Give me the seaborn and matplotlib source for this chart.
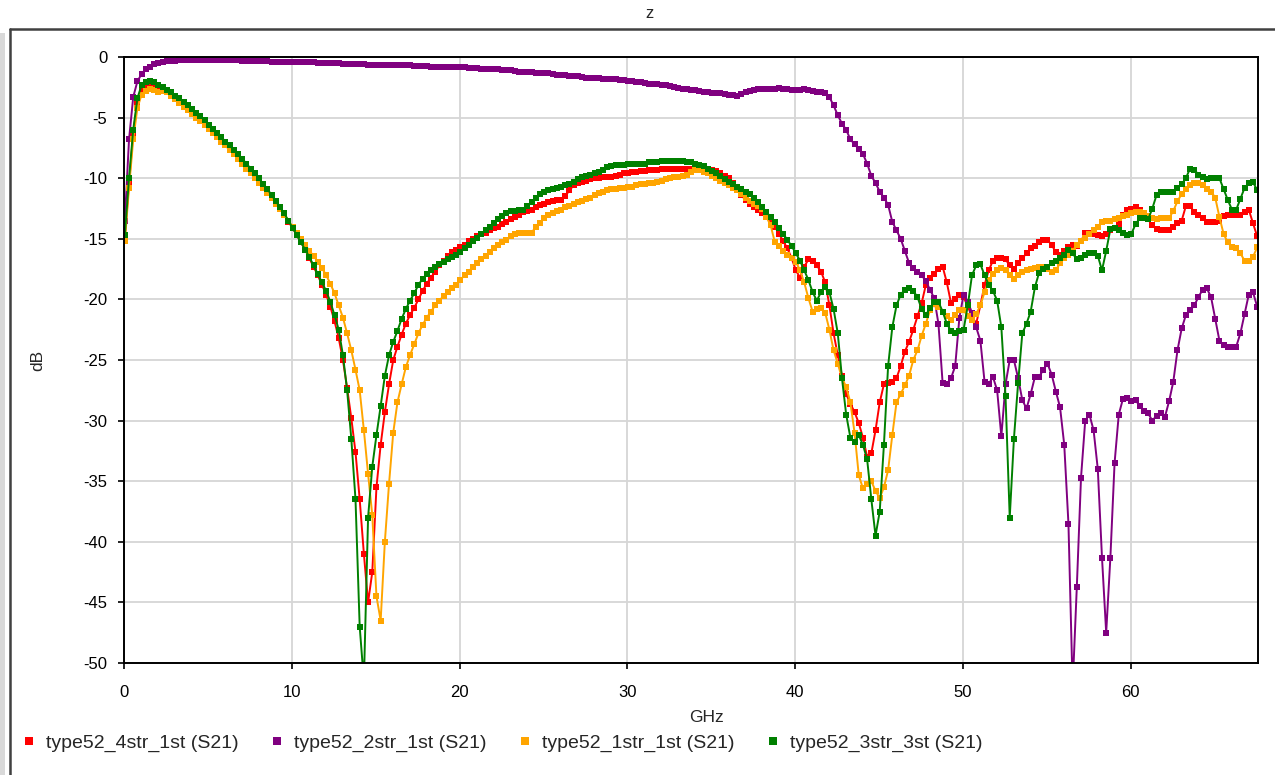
import numpy as np
import pandas as pd
import matplotlib
matplotlib.use("Agg")
import matplotlib.pyplot as plt
from matplotlib.lines import Line2D
import seaborn as sns

# Frequency sweep (GHz)
freq = np.linspace(0.05, 67.55, 271)

s21_4str_1st = [
    -14.9, -10.4, -6.3, -3.7,
    -2.6, -2.3, -2.2, -2.3,
    -2.5, -2.7, -2.9, -3.1,
    -3.4, -3.6, -3.9, -4.2,
    -4.5, -4.8, -5.1, -5.4,
    -5.8, -6.1, -6.5, -6.8,
    -7.2, -7.5, -7.9, -8.2,
    -8.6, -9.0, -9.4, -9.8,
    -10.2, -10.6, -11.0, -11.5,
    -12.0, -12.5, -13.0, -13.6,
    -14.1, -14.7, -15.3, -15.9,
    -16.6, -17.3, -18.0, -18.8,
    -19.6, -20.6, -21.8, -23.2,
    -25.0, -27.3, -29.8, -32.6,
    -36.5, -41.0, -45.0, -42.5,
    -35.5, -32.0, -29.3, -27.0,
    -25.0, -23.9, -22.9, -22.0,
    -21.3, -20.7, -20.0, -19.3,
    -18.7, -18.2, -17.7, -17.2,
    -16.8, -16.4, -16.1, -15.9,
    -15.7, -15.5, -15.2, -15.0,
    -14.8, -14.6, -14.5, -14.3,
    -14.1, -14.0, -13.8, -13.6,
    -13.4, -13.2, -13.0, -12.8,
    -12.7, -12.6, -12.4, -12.2,
    -12.1, -12.0, -11.9, -11.8,
    -11.8, -11.5, -11.0, -10.6,
    -10.4, -10.3, -10.2, -10.1,
    -10.0, -10.0, -9.9, -9.9,
    -9.9, -9.8, -9.7, -9.6,
    -9.6, -9.5, -9.5, -9.4,
    -9.4, -9.3, -9.3, -9.3,
    -9.2, -9.2, -9.2, -9.2,
    -9.2, -9.2, -9.2, -9.2,
    -9.2, -9.2, -9.3, -9.3,
    -9.3, -9.4, -9.6, -9.8,
    -10.0, -10.4, -10.9, -11.4,
    -11.8, -12.1, -12.4, -12.6,
    -12.9, -13.2, -13.5, -14.0,
    -14.6, -15.2, -15.8, -16.6,
    -17.6, -18.2, -17.3, -16.7,
    -16.8, -17.2, -17.7, -18.6,
    -20.5, -22.8, -24.6, -26.3,
    -27.8, -28.6, -29.3, -30.2,
    -31.4, -33.0, -32.7, -30.8,
    -28.5, -27.0, -26.9, -26.8,
    -26.5, -25.5, -24.3, -23.5,
    -22.5, -21.4, -20.3, -18.8,
    -18.2, -17.9, -17.5, -17.3,
    -18.6, -20.3, -20.0, -19.6,
    -19.8, -20.6, -21.4, -22.0,
    -20.5, -18.8, -17.6, -16.8,
    -16.6, -16.6, -16.7, -17.2,
    -17.5, -17.0, -16.6, -16.2,
    -15.8, -15.6, -15.3, -15.1,
    -15.1, -15.5, -16.1, -16.3,
    -16.0, -15.7, -15.5, -15.6,
    -15.2, -14.5, -14.5, -14.6,
    -14.7, -14.8, -14.6, -14.3,
    -14.1, -13.8, -13.0, -12.6,
    -12.5, -12.4, -12.6, -12.9,
    -13.4, -13.9, -14.2, -14.3,
    -14.3, -14.3, -14.0, -13.7,
    -13.5, -12.3, -12.3, -12.8,
    -13.0, -13.3, -13.6, -13.6,
    -13.6, -13.5, -13.1, -13.0,
    -13.0, -13.0, -13.0, -12.8,
    -12.6, -13.7, -14.8,
]

s21_2str_1st = [
    -13.5, -6.8, -3.3, -2.0,
    -1.4, -1.0, -0.8, -0.6,
    -0.5, -0.4, -0.3, -0.3,
    -0.3, -0.25, -0.25, -0.25,
    -0.25, -0.25, -0.25, -0.25,
    -0.25, -0.25, -0.25, -0.25,
    -0.25, -0.25, -0.25, -0.25,
    -0.3, -0.3, -0.3, -0.3,
    -0.3, -0.3, -0.35, -0.4,
    -0.4, -0.4, -0.4, -0.4,
    -0.4, -0.4, -0.4, -0.4,
    -0.45, -0.45, -0.5, -0.5,
    -0.5, -0.5, -0.5, -0.5,
    -0.55, -0.55, -0.55, -0.55,
    -0.6, -0.6, -0.65, -0.65,
    -0.65, -0.65, -0.7, -0.7,
    -0.7, -0.7, -0.7, -0.7,
    -0.7, -0.75, -0.75, -0.75,
    -0.75, -0.8, -0.8, -0.8,
    -0.8, -0.8, -0.8, -0.8,
    -0.85, -0.85, -0.9, -0.9,
    -0.9, -0.95, -0.95, -1.0,
    -1.0, -1.0, -1.05, -1.1,
    -1.1, -1.15, -1.2, -1.2,
    -1.25, -1.25, -1.3, -1.3,
    -1.35, -1.35, -1.4, -1.45,
    -1.5, -1.5, -1.55, -1.6,
    -1.6, -1.65, -1.7, -1.7,
    -1.75, -1.75, -1.8, -1.8,
    -1.85, -1.85, -1.9, -1.9,
    -1.95, -2.0, -2.05, -2.1,
    -2.15, -2.2, -2.2, -2.25,
    -2.3, -2.35, -2.4, -2.5,
    -2.55, -2.6, -2.65, -2.7,
    -2.75, -2.8, -2.85, -2.9,
    -2.95, -3.0, -3.0, -3.05,
    -3.1, -3.15, -3.2, -3.05,
    -2.9, -2.8, -2.7, -2.65,
    -2.6, -2.6, -2.65, -2.6,
    -2.55, -2.6, -2.6, -2.7,
    -2.7, -2.7, -2.6, -2.7,
    -2.8, -2.85, -2.9, -3.0,
    -3.3, -4.0, -4.8, -5.5,
    -6.0, -6.8, -7.2, -7.6,
    -8.0, -8.8, -9.8, -10.4,
    -11.1, -11.6, -12.2, -13.6,
    -14.3, -15.0, -16.0, -17.0,
    -17.4, -17.7, -18.0, -18.5,
    -19.2, -19.9, -22.0, -26.9,
    -27.0, -26.5, -25.5, -21.5,
    -19.6, -20.2, -21.1, -22.3,
    -23.4, -26.8, -27.0, -26.4,
    -27.5, -31.3, -27.0, -25.0,
    -25.0, -26.5, -28.3, -29.0,
    -27.8, -26.4, -26.4, -25.8,
    -25.3, -26.2, -27.6, -28.9,
    -32.0, -38.5, -52.0, -43.7,
    -34.7, -30.0, -29.5, -30.8,
    -34.0, -41.3, -47.5, -41.3,
    -33.5, -29.5, -28.2, -28.1,
    -28.4, -28.3, -28.8, -29.2,
    -29.4, -30.0, -29.6, -29.4,
    -29.7, -28.4, -26.8, -24.2,
    -22.4, -21.3, -20.9, -20.5,
    -19.8, -19.2, -19.1, -19.8,
    -21.6, -23.4, -23.8, -23.9,
    -23.9, -23.9, -22.8, -21.2,
    -19.6, -19.4, -20.6,
]

s21_1str_1st = [
    -15.2, -10.8, -6.8, -4.2,
    -3.1, -2.8, -2.6, -2.7,
    -2.9, -2.8, -2.9, -3.2,
    -3.5, -3.8, -4.1, -4.4,
    -4.7, -5.0, -5.3, -5.6,
    -5.9, -6.3, -6.6, -7.0,
    -7.3, -7.7, -8.0, -8.4,
    -8.8, -9.2, -9.6, -10.0,
    -10.4, -10.8, -11.2, -11.6,
    -12.1, -12.5, -13.0, -13.5,
    -14.0, -14.5, -15.0, -15.5,
    -16.0, -16.4, -16.9, -17.4,
    -18.0, -18.7, -19.5, -20.5,
    -21.5, -22.8, -24.2, -25.8,
    -27.5, -30.8, -34.4, -37.8,
    -44.5, -46.5, -40.0, -35.2,
    -31.0, -28.5, -27.0, -25.6,
    -24.6, -23.7, -22.8, -22.1,
    -21.5, -21.0, -20.5, -20.1,
    -19.7, -19.4, -19.1, -18.8,
    -18.4, -18.0, -17.7, -17.3,
    -17.0, -16.7, -16.4, -16.1,
    -15.8, -15.5, -15.3, -15.1,
    -14.8, -14.6, -14.5, -14.5,
    -14.5, -14.5, -14.0, -13.7,
    -13.3, -13.0, -12.9, -12.7,
    -12.6, -12.4, -12.3, -12.1,
    -12.0, -11.9, -11.7, -11.6,
    -11.4, -11.2, -11.1, -11.0,
    -10.9, -10.9, -10.8, -10.8,
    -10.7, -10.7, -10.6, -10.5,
    -10.5, -10.4, -10.4, -10.3,
    -10.2, -10.1, -10.0, -9.9,
    -9.9, -9.8, -9.7, -9.5,
    -9.3, -9.3, -9.5, -9.6,
    -9.8, -10.0, -10.2, -10.4,
    -10.6, -10.8, -11.0, -11.3,
    -11.6, -11.9, -12.1, -12.3,
    -12.5, -13.2, -13.9, -15.3,
    -15.6, -16.0, -16.3, -16.6,
    -16.9, -17.6, -18.6, -19.9,
    -21.0, -20.8, -20.7, -21.1,
    -22.5, -24.2, -25.3, -26.5,
    -27.2, -28.5, -31.0, -34.5,
    -35.6, -35.2, -35.0, -35.8,
    -36.4, -35.5, -34.1, -31.2,
    -28.5, -27.8, -27.1, -26.3,
    -25.0, -24.2, -23.0, -22.0,
    -20.9, -20.4, -20.6, -21.0,
    -21.4, -21.7, -21.3, -20.9,
    -20.9, -21.4, -21.7, -21.2,
    -20.5, -19.4, -18.4, -17.9,
    -17.6, -17.4, -17.6, -18.0,
    -18.3, -18.0, -17.7, -17.6,
    -17.5, -17.4, -17.3, -17.3,
    -17.5, -17.7, -17.6, -17.0,
    -16.6, -16.3, -16.0, -15.5,
    -15.2, -14.9, -14.6, -14.3,
    -14.0, -13.6, -13.5, -13.5,
    -13.4, -13.3, -13.1, -13.0,
    -12.9, -12.8, -12.8, -12.9,
    -13.1, -13.3, -13.4, -13.3,
    -13.3, -13.3, -12.7, -11.9,
    -11.3, -10.9, -10.6, -10.4,
    -10.4, -10.6, -10.9, -11.1,
    -11.6, -13.2, -14.6, -15.3,
    -15.7, -15.8, -16.2, -16.8,
    -16.8, -16.5, -15.7,
]

s21_3str_3st = [
    -14.7, -10.0, -6.0, -3.4,
    -2.3, -2.1, -2.0, -2.1,
    -2.3, -2.5, -2.7, -2.9,
    -3.2, -3.4, -3.7, -4.0,
    -4.3, -4.6, -4.9, -5.2,
    -5.6, -5.9, -6.3, -6.6,
    -7.0, -7.3, -7.7, -8.0,
    -8.4, -8.8, -9.2, -9.6,
    -10.0, -10.5, -10.9, -11.4,
    -11.9, -12.4, -12.9, -13.5,
    -14.1, -14.7, -15.3, -15.9,
    -16.5, -17.2, -17.9, -18.6,
    -19.3, -20.2, -21.3, -22.5,
    -24.6, -27.5, -31.5, -36.5,
    -47.0, -51.5, -38.0, -33.8,
    -31.2, -28.8, -26.3, -24.6,
    -23.5, -22.6, -21.6, -20.8,
    -20.1, -19.5, -18.8, -18.3,
    -17.9, -17.6, -17.3, -17.1,
    -16.9, -16.7, -16.5, -16.3,
    -16.1, -15.8, -15.5, -15.2,
    -14.9, -14.6, -14.3, -14.0,
    -13.7, -13.4, -13.1, -12.9,
    -12.7, -12.7, -12.6, -12.6,
    -12.3, -12.0, -11.6, -11.3,
    -11.1, -11.0, -10.9, -10.8,
    -10.7, -10.6, -10.5, -10.3,
    -10.1, -9.9, -9.8, -9.7,
    -9.6, -9.5, -9.3, -9.1,
    -9.0, -8.9, -8.9, -8.9,
    -8.8, -8.8, -8.8, -8.8,
    -8.8, -8.7, -8.7, -8.7,
    -8.6, -8.6, -8.6, -8.6,
    -8.6, -8.6, -8.7, -8.7,
    -8.8, -8.9, -9.0, -9.2,
    -9.4, -9.6, -9.8, -10.1,
    -10.3, -10.5, -10.7, -10.9,
    -11.1, -11.3, -11.6, -12.0,
    -12.4, -12.8, -13.2, -13.6,
    -14.1, -14.6, -15.1, -15.6,
    -16.2, -16.8, -17.6, -18.4,
    -19.4, -20.1, -19.4, -19.0,
    -19.4, -20.8, -22.8, -26.5,
    -29.5, -31.4, -31.8, -31.2,
    -32.0, -33.2, -36.5, -39.5,
    -37.5, -32.0, -25.5, -22.3,
    -20.5, -19.6, -19.2, -19.1,
    -19.3, -19.8, -20.8, -21.3,
    -20.7, -20.2, -20.2, -21.0,
    -22.0, -22.6, -22.8, -22.6,
    -22.5, -20.5, -18.0, -17.2,
    -17.1, -18.0, -18.8, -19.3,
    -20.1, -22.3, -28.0, -38.0,
    -31.5, -26.9, -22.8, -22.0,
    -21.0, -19.0, -17.8, -17.5,
    -17.3, -17.0, -16.8, -16.6,
    -16.3, -15.9, -16.2, -16.7,
    -16.6, -16.3, -16.2, -16.2,
    -16.4, -17.6, -16.0, -14.2,
    -14.1, -14.3, -14.5, -14.7,
    -14.6, -13.8, -13.3, -13.3,
    -13.4, -12.5, -11.4, -11.1,
    -11.1, -11.1, -11.1, -10.8,
    -10.5, -10.0, -9.2, -9.3,
    -9.7, -9.9, -10.1, -10.0,
    -10.0, -10.0, -10.9, -11.8,
    -12.6, -12.6, -11.7, -10.8,
    -10.4, -10.3, -11.0,
]

series_names = [
    "type52_4str_1st (S21)",
    "type52_2str_1st (S21)",
    "type52_1str_1st (S21)",
    "type52_3str_3st (S21)",
]
series_values = [s21_4str_1st, s21_2str_1st, s21_1str_1st, s21_3str_3st]
series_colors = ["#ff0000", "#800080", "#ffa500", "#008000"]

x_ticks = [0, 10, 20, 30, 40, 50, 60]
y_ticks = [0, -5, -10, -15, -20, -25, -30, -35, -40, -45, -50]

df = pd.concat(
    [pd.DataFrame({"GHz": freq, "dB": vals, "series": name})
     for name, vals in zip(series_names, series_values)],
    ignore_index=True,
)

sns.set_style("white")
plt.rcParams["font.family"] = ["Liberation Sans", "DejaVu Sans"]
plt.rcParams["axes.unicode_minus"] = False

W, H = 1275, 775
fig = plt.figure(figsize=(W / 100, H / 100), dpi=100)
ax = fig.add_axes([124 / W, 1 - 663 / H, (1258 - 124) / W, (663 - 57) / H])

sns.lineplot(
    data=df, x="GHz", y="dB", hue="series", hue_order=series_names,
    palette=dict(zip(series_names, series_colors)),
    marker="s", markersize=4.4, markeredgewidth=0, linewidth=1.4,
    estimator=None, sort=False, legend=False, ax=ax,
)

ax.set_xlim(0, 67.6)
ax.set_ylim(-50, 0)
ax.set_xticks(x_ticks)
ax.set_yticks(y_ticks)
ax.set_xticklabels([str(t) for t in x_ticks])
ax.set_yticklabels([str(t) for t in y_ticks])
ax.grid(True, color="#d6d6d6", linewidth=1.3)
ax.set_axisbelow(True)
for side in ["left", "bottom", "top", "right"]:
    ax.spines[side].set_visible(True)
    ax.spines[side].set_color("black")
    ax.spines[side].set_linewidth(1.4)
ax.tick_params(axis="both", direction="out", length=4, width=1.2,
               color="black", labelsize=12, labelcolor="black")
ax.tick_params(axis="x", pad=12)
ax.tick_params(axis="y", pad=8)
ax.tick_params(left=True, bottom=True)
ax.set_xlabel("GHz", fontsize=12.5)
ax.set_ylabel("dB", fontsize=12.5)
ax.xaxis.set_label_coords((706 - 124) / (1258 - 124), -(718 - 663) / (663 - 57))
ax.yaxis.set_label_coords(-(124 - 38) / (1258 - 124), 0.5)
ax.xaxis.label.set_va("center")
ax.yaxis.label.set_va("center")

# legend below the plot
handles = [Line2D([], [], marker="s", linestyle="none", color=c,
                  markersize=6, markeredgewidth=0) for c in series_colors]
fig.legend(handles, series_names, loc="center left", ncol=4,
           bbox_to_anchor=(22 / W, 1 - 743 / H), frameon=False,
           fontsize=14, handlelength=0.7, handletextpad=0.55,
           columnspacing=1.6, borderpad=0, borderaxespad=0)

# surrounding window frame
fig.add_artist(Line2D([10 / W, 1], [1 - 29 / H, 1 - 29 / H],
                      color="#404040", linewidth=1.8))
fig.add_artist(Line2D([10 / W, 10 / W], [0, 1 - 29 / H],
                      color="#404040", linewidth=1.8))
fig.add_artist(plt.Rectangle((0, 0), 5 / W, 1 - 33 / H, color="#d9d9d9",
                             linewidth=0))
fig.text(650 / W, 1 - 14 / H, "z", ha="center", va="center", fontsize=12)

fig.savefig("out.png", dpi=100)
